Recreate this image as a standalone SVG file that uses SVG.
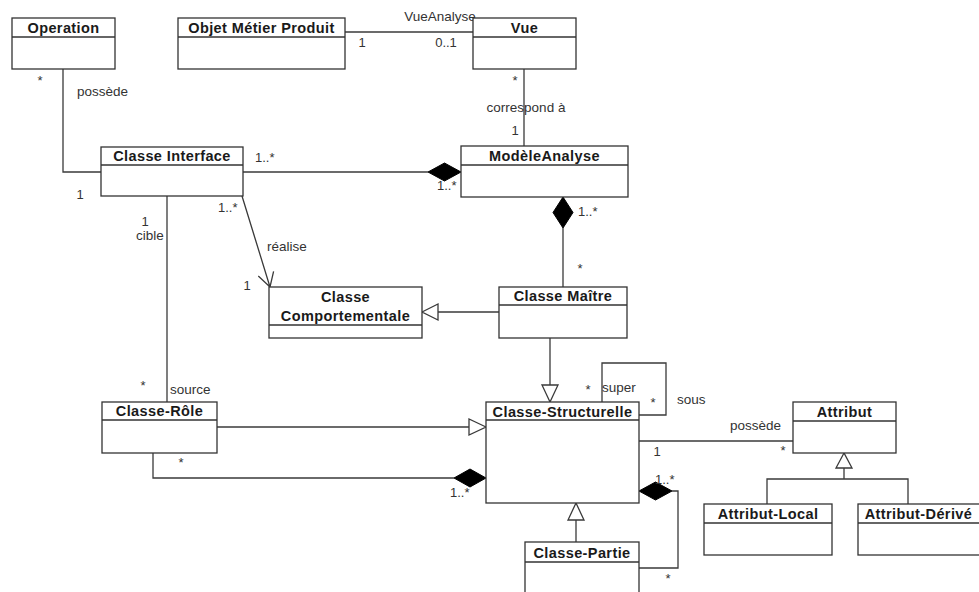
<svg xmlns="http://www.w3.org/2000/svg" width="979" height="592" viewBox="0 0 979 592">
<style>
.box{fill:#fff;stroke:#333;stroke-width:1.3}
.div{stroke:#333;stroke-width:1.3}
.t{font-family:"Liberation Sans",Arial,sans-serif;font-weight:bold;font-size:14.5px;letter-spacing:0.4px;fill:#1a1a1a;text-anchor:middle}
.ln{fill:none;stroke:#3a3a3a;stroke-width:1.3}
.dia{fill:#000;stroke:#000;stroke-width:1}
.tri{fill:#fff;stroke:#3a3a3a;stroke-width:1.3}
.l{font-family:"Liberation Sans",Arial,sans-serif;font-size:13.5px;fill:#333}
.m{font-family:"Liberation Sans",Arial,sans-serif;font-size:13px;fill:#333}
</style>
<rect width="979" height="592" fill="#fff"/>
<g id="connectors">
  <path class="ln" d="M63,69 V172 H101"/>
  <path class="ln" d="M345,32 H473"/>
  <path class="ln" d="M524,69 V146"/>
  <path class="ln" d="M243,172 H428"/>
  <polygon class="dia" points="461,172 444.5,163 428,172 444.5,181"/>
  <path class="ln" d="M563,228 V287"/>
  <polygon class="dia" points="563,197 573,212.5 563,228 553,212.5"/>
  <path class="ln" d="M499,312 H438"/>
  <polygon class="tri" points="422,312 438,304 438,320"/>
  <path class="ln" d="M242,196 L270,287 M258.3,276.1 L270,287 L273.6,271.4"/>
  <path class="ln" d="M167,196 V402"/>
  <path class="ln" d="M550,338 V385"/>
  <polygon class="tri" points="550,402 542,385 558,385"/>
  <path class="ln" d="M217,427 H469"/>
  <polygon class="tri" points="486,427 469,419 469,435"/>
  <path class="ln" d="M153,453 V478 H454"/>
  <polygon class="dia" points="486,478 470,469 454,478 470,487"/>
  <path class="ln" d="M602,402 V363 H666 V415 H639"/>
  <path class="ln" d="M639,441 H793"/>
  <path class="ln" d="M844,468 V479 M767,504 V479 H908 V504"/>
  <polygon class="tri" points="844,453 836,468 852,468"/>
  <path class="ln" d="M576,542 V520"/>
  <polygon class="tri" points="576,503 568,520 584,520"/>
  <path class="ln" d="M639,568 H678 V491 H672"/>
  <polygon class="dia" points="639,491 655.5,482 672,491 655.5,500"/>
  <text class="l" x="440" y="21" text-anchor="middle">VueAnalyse</text>
  <text class="m" x="362" y="47" text-anchor="middle">1</text>
  <text class="m" x="446" y="47" text-anchor="middle">0..1</text>
  <text class="m" x="515" y="85" text-anchor="middle">*</text>
  <text class="l" x="526" y="112" text-anchor="middle">correspond à</text>
  <text class="m" x="515" y="135" text-anchor="middle">1</text>
  <text class="m" x="40" y="85" text-anchor="middle">*</text>
  <text class="l" x="77" y="96">possède</text>
  <text class="m" x="255" y="162">1..*</text>
  <text class="m" x="80" y="199" text-anchor="middle">1</text>
  <text class="m" x="437" y="190">1..*</text>
  <text class="m" x="578" y="216">1..*</text>
  <text class="m" x="580" y="273" text-anchor="middle">*</text>
  <text class="m" x="218" y="212">1..*</text>
  <text class="m" x="145" y="226" text-anchor="middle">1</text>
  <text class="l" x="136" y="240">cible</text>
  <text class="l" x="267" y="251">réalise</text>
  <text class="m" x="247" y="290" text-anchor="middle">1</text>
  <text class="m" x="143" y="390" text-anchor="middle">*</text>
  <text class="l" x="170" y="394">source</text>
  <text class="m" x="181" y="467" text-anchor="middle">*</text>
  <text class="m" x="450" y="497">1..*</text>
  <text class="m" x="588" y="394" text-anchor="middle">*</text>
  <text class="l" x="602" y="392">super</text>
  <text class="m" x="653" y="407" text-anchor="middle">*</text>
  <text class="l" x="677" y="404">sous</text>
  <text class="m" x="657" y="456" text-anchor="middle">1</text>
  <text class="m" x="655" y="484">1..*</text>
  <text class="m" x="668" y="583" text-anchor="middle">*</text>
  <text class="l" x="730" y="430">possède</text>
  <text class="m" x="783" y="455" text-anchor="middle">*</text>
</g>
<g id="operation">
  <rect class="box" x="12" y="18" width="103" height="51"/>
  <line class="div" x1="12" y1="37" x2="115" y2="37"/>
  <text class="t" x="63.5" y="33">Operation</text>
</g>
<g id="objet-metier-produit">
  <rect class="box" x="178" y="18" width="167" height="51"/>
  <line class="div" x1="178" y1="37" x2="345" y2="37"/>
  <text class="t" x="261.5" y="33">Objet Métier Produit</text>
</g>
<g id="vue">
  <rect class="box" x="473" y="18" width="103" height="51"/>
  <line class="div" x1="473" y1="37" x2="576" y2="37"/>
  <text class="t" x="524.5" y="33">Vue</text>
</g>
<g id="classe-interface">
  <rect class="box" x="101" y="147" width="142" height="49"/>
  <line class="div" x1="101" y1="165" x2="243" y2="165"/>
  <text class="t" x="172" y="161">Classe Interface</text>
</g>
<g id="modele-analyse">
  <rect class="box" x="461" y="146" width="167" height="51"/>
  <line class="div" x1="461" y1="165" x2="628" y2="165"/>
  <text class="t" x="544.5" y="161">ModèleAnalyse</text>
</g>
<g id="classe-comportementale">
  <rect class="box" x="269" y="287" width="153" height="51"/>
  <line class="div" x1="269" y1="325" x2="422" y2="325"/>
  <text class="t" x="345.5" y="302">Classe</text>
  <text class="t" x="345.5" y="321">Comportementale</text>
</g>
<g id="classe-maitre">
  <rect class="box" x="499" y="287" width="128" height="51"/>
  <line class="div" x1="499" y1="305" x2="627" y2="305"/>
  <text class="t" x="563" y="301">Classe Maître</text>
</g>
<g id="classe-role">
  <rect class="box" x="102" y="402" width="115" height="51"/>
  <line class="div" x1="102" y1="420" x2="217" y2="420"/>
  <text class="t" x="159.5" y="416">Classe-Rôle</text>
</g>
<g id="classe-structurelle">
  <rect class="box" x="486" y="402" width="153" height="101"/>
  <line class="div" x1="486" y1="420" x2="639" y2="420"/>
  <text class="t" x="562.5" y="417">Classe-Structurelle</text>
</g>
<g id="attribut">
  <rect class="box" x="793" y="402" width="103" height="51"/>
  <line class="div" x1="793" y1="421" x2="896" y2="421"/>
  <text class="t" x="844.5" y="417">Attribut</text>
</g>
<g id="attribut-local">
  <rect class="box" x="704" y="504" width="128" height="51"/>
  <line class="div" x1="704" y1="523" x2="832" y2="523"/>
  <text class="t" x="768" y="519">Attribut-Local</text>
</g>
<g id="attribut-derive">
  <rect class="box" x="858" y="504" width="150" height="51"/>
  <line class="div" x1="858" y1="523" x2="1008" y2="523"/>
  <text class="t" x="918.5" y="519">Attribut-Dérivé</text>
</g>
<g id="classe-partie">
  <rect class="box" x="525" y="542" width="114" height="70"/>
  <line class="div" x1="525" y1="562" x2="639" y2="562"/>
  <text class="t" x="582" y="558">Classe-Partie</text>
</g>
</svg>
